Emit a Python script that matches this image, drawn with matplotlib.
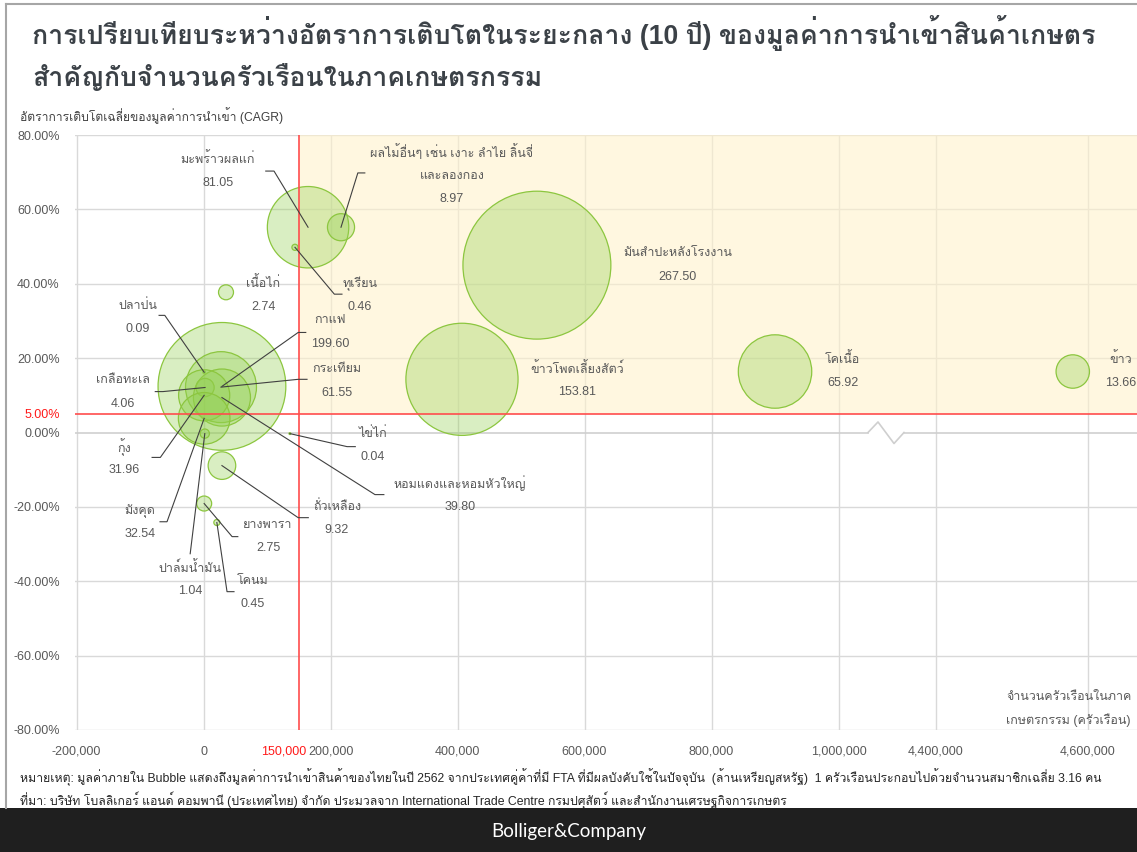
import numpy as np
import matplotlib
matplotlib.use("Agg")
import matplotlib.pyplot as plt
import matplotlib.transforms as mtransforms
from matplotlib.patches import Rectangle
from matplotlib.lines import Line2D

plt.rcParams['font.family'] = ['Liberation Sans', 'Loma']

# ---------------- data ----------------
products = [
    "มะพร้าวผลแก่", "ผลไม้อื่นๆ เช่น เงาะ ลำไย ลิ้นจี่\nและลองกอง", "ทุเรียน", "เนื้อไก่",
    "มันสำปะหลังโรงงาน", "ปลาป่น", "กาแฟ", "กระเทียม", "หอมแดงและหอมหัวใหญ่",
    "เกลือทะเล", "กุ้ง", "มังคุด", "ปาล์มน้ำมัน", "ไข่ไก่", "ถั่วเหลือง", "ยางพารา",
    "โคนม", "ข้าวโพดเลี้ยงสัตว์", "โคเนื้อ", "ข้าว",
]
households = [
    164600, 216500, 144000, 35400, 525000, 1000, 29000, 27500, 29000,
    2400, 1000, 1000, 2000, 136000, 29000, 1000, 21000, 407000, 900000, 4580000,
]
cagr_pct = [
    55.2, 55.2, 49.8, 37.7, 45.0, 16.2, 12.4, 12.2, 9.4,
    12.1, 10.0, 3.8, -0.3, -0.3, -8.9, -19.1, -24.2, 14.3, 16.4, 16.4,
]
import_musd = [
    81.05, 8.97, 0.46, 2.74, 267.50, 0.09, 199.60, 61.55, 39.80,
    4.06, 31.96, 32.54, 1.04, 0.04, 9.32, 2.75, 0.45, 153.81, 65.92, 13.66,
]

x_ticks = [-200000, 0, 200000, 400000, 600000, 800000, 1000000, 4400000, 4600000]
y_ticks = [-80, -60, -40, -20, 0, 5, 20, 40, 60, 80]
target_households = 150000
target_cagr = 5

# ---------------- label placement (data units) ----------------
label_x = [22800, 391000, 246000, 94000, 747000, -104000, 199000, 210000, 404000,
           -127000, -125000, -100000, -21000, 267000, 210000, 101600, 78000, 588000, 1007000, 4643000]
label_y = [73.5, 75.4, 40.1, 40.1, 48.2, 34.2, 30.2, 17.0, -13.7,
           14.0, -3.8, -21.0, -36.4, -0.3, -19.9, -24.8, -39.9, 17.2, 19.7, 19.7]
# leader: (x_start, x_elbow, y) ; None = no leader
leaders = [
    (98000, 111000, 70.3), (254000, 243000, 69.8), (218000, 206000, 37.2), None,
    None, (-70000, -61000, 31.5), (161000, 149000, 26.9), (163000, 149000, 14.3), (284000, 270000, -16.7),
    (-76000, -64000, 11.0), (-81000, -68000, -6.7), (-68500, -57500, -24.0), (-21000, -21000, -32.6),
    (239000, 226000, -3.8), (165000, 149000, -22.9), (54000, 45000, -28.0), (48000, 37000, -42.8),
    None, None, None,
]

# ---------------- broken x scale ----------------
BREAK_LO = 1_078_000
BREAK_HI = 4_337_000
SLOPE_HI = 1.197
_xs = np.array([-1e9, BREAK_LO, BREAK_HI, 1e9])
_ys = np.array([-1e9, BREAK_LO, BREAK_LO + 1, BREAK_LO + 1 + (1e9 - BREAK_HI) * SLOPE_HI])


def fwd(x):
    return np.interp(np.asarray(x, dtype=float), _xs, _ys)


def inv(y):
    return np.interp(np.asarray(y, dtype=float), _ys, _xs)


W, H = 1137, 852
fig = plt.figure(figsize=(W / 100, H / 100), dpi=100)
fig.patch.set_facecolor('white')

ax = fig.add_axes([75 / W, 1 - 730 / H, (W - 75) / W, (730 - 135) / H])
ax.set_xscale('function', functions=(fwd, inv))
ax.set_xlim(-202400, 4664500)
ax.set_ylim(-80, 80)
for s in ax.spines.values():
    s.set_visible(False)

GRID = '#d9d9d9'
# gridlines
for yv in y_ticks:
    if yv in (0, target_cagr):
        continue
    ax.axhline(yv, color=GRID, lw=1.0, zorder=0.5)
for xv in x_ticks:
    ax.axvline(xv, color=GRID, lw=1.0, zorder=0.5)

# zero line with axis-break zigzag
gap0, gap1 = (868 - 75) / (W - 75), (904 - 75) / (W - 75)
ax.axhline(0, xmin=0, xmax=gap0, color='#cfcfcf', lw=1.2, zorder=0.6)
ax.axhline(0, xmin=gap1, xmax=1, color='#cfcfcf', lw=1.2, zorder=0.6)
bt = mtransforms.blended_transform_factory(ax.transAxes, ax.transData)
zx = [gap0, (878 - 75) / (W - 75), (894 - 75) / (W - 75), gap1]
zy = [0, 2.83, -2.96, 0]
ax.plot(zx, zy, color='#cfcfcf', lw=1.2, transform=bt, zorder=0.6, clip_on=False)

# target quadrant shading
xmax_lim = ax.get_xlim()[1]
ax.add_patch(Rectangle((target_households, target_cagr), xmax_lim - target_households, 80 - target_cagr,
                       facecolor='#FFF2CC', alpha=0.6, edgecolor='none', zorder=1))

# bubbles
sizes = [42.4 * v for v in import_musd]
ax.scatter(households, cagr_pct, s=sizes, facecolor=(0.573, 0.816, 0.314, 0.35),
           edgecolor='#8cc63f', linewidths=0.9, zorder=2)

# target lines
ax.axvline(target_households, color='#ff4d4d', lw=1.2, zorder=4)
ax.axhline(target_cagr, color='#ff4d4d', lw=1.2, zorder=4)

# leader lines + labels
LBL = '#595959'
for i, name in enumerate(products):
    ld = leaders[i]
    if ld is not None:
        xs_, xe_, yl = ld
        ax.plot([xs_, xe_, households[i]], [yl, yl, cagr_pct[i]], color='#404040', lw=0.8, zorder=5)
    lines = name.split('\n') + [f"{import_musd[i]:.2f}"]
    for k, t in enumerate(lines):
        ax.annotate(t, xy=(label_x[i], label_y[i]), xytext=(0, -17 * k), textcoords='offset points',
                    ha='center', va='center', fontsize=9, color=LBL, zorder=6, annotation_clip=False)

# ticks
ax.set_xticks(x_ticks)
ax.set_xticklabels([f"{v:,}" for v in x_ticks])
ax.set_yticks(y_ticks)
ax.set_yticklabels([f"{v:.2f}%" for v in y_ticks])
ax.tick_params(axis='both', length=0, labelsize=9, labelcolor=LBL)
ax.tick_params(axis='x', pad=11.5)
ax.tick_params(axis='y', pad=11)
for tl, v in zip(ax.get_yticklabels(), y_ticks):
    if v == target_cagr:
        tl.set_color('#ff1a1a')
xt = mtransforms.blended_transform_factory(ax.transData, ax.transAxes)
ax.annotate(f"{target_households:,}", xy=(target_households, 0), xycoords=xt, xytext=(5.5, -11.5),
            textcoords='offset points', ha='right', va='top', fontsize=9, color='#ff1a1a',
            annotation_clip=False)

# axis titles
fig.text(20 / W, 1 - 116 / H, "อัตราการเติบโตเฉลี่ยของมูลค่าการนำเข้า (CAGR)", ha='left', va='center',
         fontsize=8.7, color='#404040')
fig.text(1006 / W, 1 - 697 / H, "จำนวนครัวเรือนในภาค", ha='left', va='center', fontsize=9, color=LBL)
fig.text(1006 / W, 1 - 720 / H, "เกษตรกรรม (ครัวเรือน)", ha='left', va='center', fontsize=9, color=LBL)

# title
TITLE = '#3b4147'
fig.text(32 / W, 1 - 33 / H, "การเปรียบเทียบระหว่างอัตราการเติบโตในระยะกลาง (10 ปี) ของมูลค่าการนำเข้าสินค้าเกษตร",
         ha='left', va='center', fontsize=19.2, fontweight='bold', color=TITLE)
fig.text(32 / W, 1 - 78 / H, "สำคัญกับจำนวนครัวเรือนในภาคเกษตรกรรม",
         ha='left', va='center', fontsize=19.2, fontweight='bold', color=TITLE)

# notes
fig.text(20 / W, 1 - 777 / H,
         "หมายเหตุ: มูลค่าภายใน Bubble แสดงถึงมูลค่าการนำเข้าสินค้าของไทยในปี 2562 จากประเทศคู่ค้าที่มี FTA ที่มีผลบังคับใช้ในปัจจุบัน  (ล้านเหรียญสหรัฐ)  1 ครัวเรือนประกอบไปด้วยจำนวนสมาชิกเฉลี่ย 3.16 คน",
         ha='left', va='center', fontsize=8.8, color='#262626')
fig.text(20 / W, 1 - 800 / H,
         "ที่มา: บริษัท โบลลิเกอร์ แอนด์ คอมพานี (ประเทศไทย) จำกัด ประมวลจาก International Trade Centre กรมปศุสัตว์ และสำนักงานเศรษฐกิจการเกษตร",
         ha='left', va='center', fontsize=8.8, color='#262626')

# frame
fig.add_artist(Line2D([6 / W, 1], [1 - 4 / H] * 2, color='#a6a6a6', lw=1.5))
fig.add_artist(Line2D([6 / W] * 2, [1 - 808 / H, 1 - 4 / H], color='#a6a6a6', lw=1.5))

# footer
fig.add_artist(Rectangle((0, 0), 1, 44 / H, transform=fig.transFigure, facecolor='#1f1f1f',
                         edgecolor='none'))
fig.text(0.5, 21 / H, "Bolliger&Company", ha='center', va='center', fontsize=13.5,
         family='Lato', color='white')

fig.savefig("out.png", dpi=100)
